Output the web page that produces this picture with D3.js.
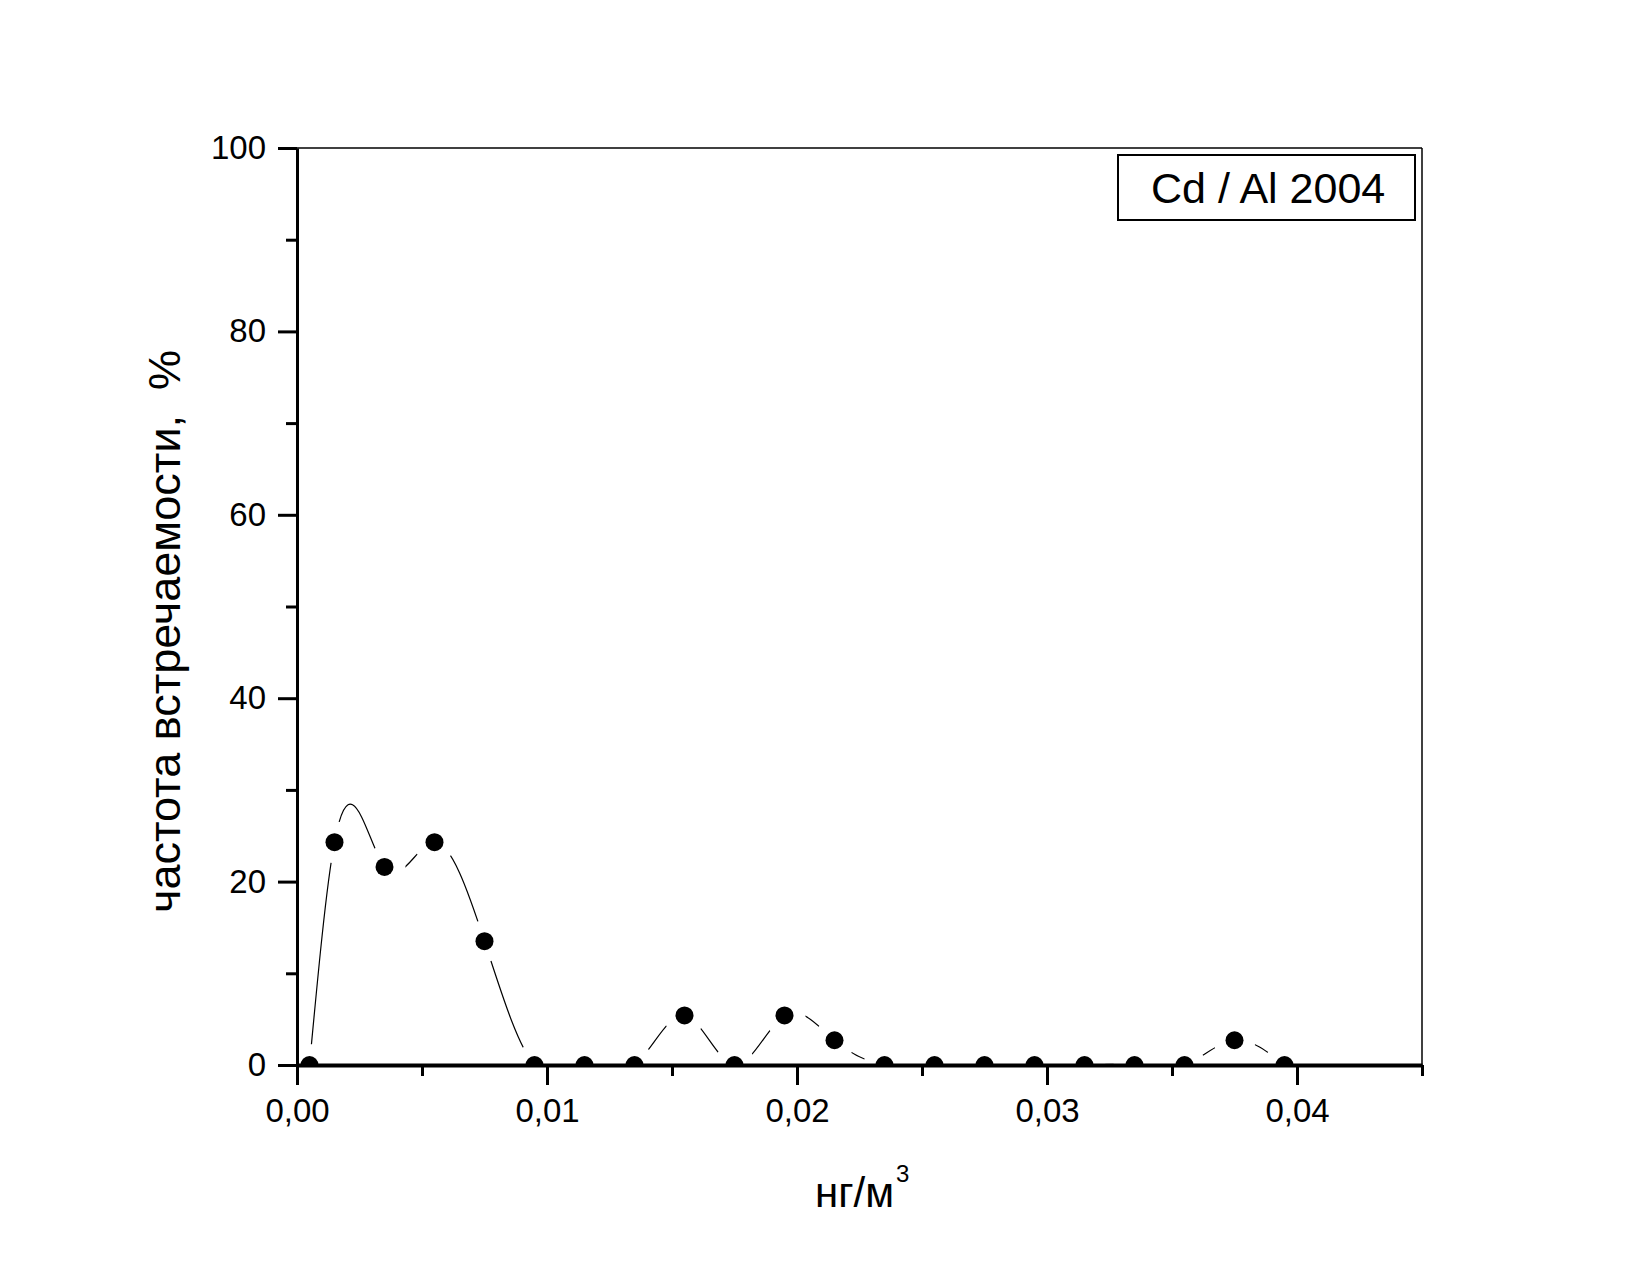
<!DOCTYPE html>
<html>
<head>
<meta charset="utf-8">
<script src="https://d3js.org/d3.v7.min.js"></script>
<style>
  body { margin: 0; background: #fff; }
  text { font-family: "Liberation Sans", Arial, sans-serif; fill: #000; }
</style>
</head>
<body>
<svg id="chart" width="1650" height="1275"></svg>
<script>
// data (bin centres, ng/m3 -> frequency, %)
const binCentres = [0.0005, 0.0015, 0.0035, 0.0055, 0.0075, 0.0095, 0.0115, 0.0135, 0.0155, 0.0175,
                    0.0195, 0.0215, 0.0235, 0.0255, 0.0275, 0.0295, 0.0315, 0.0335, 0.0355, 0.0375, 0.0395];
const frequency  = [0, 24.3, 21.6, 24.3, 13.5, 0, 0, 0, 5.4, 0,
                    5.4, 2.7, 0, 0, 0, 0, 0, 0, 0, 2.7, 0];
const xMajorTicks = [0, 0.01, 0.02, 0.03, 0.04];
const xMinorTicks = [0.005, 0.015, 0.025, 0.035, 0.045];
const yMajorTicks = [0, 20, 40, 60, 80, 100];
const yMinorTicks = [10, 30, 50, 70, 90];
const legendText = "Cd / Al 2004";
const yTitle = "частота встречаемости,  %";

const svg = d3.select("#chart");
const plotLeft = 297, plotRight = 1422, plotTop = 148, plotBottom = 1065;

const x = d3.scaleLinear().domain([0, 0.045]).range([plotLeft, plotRight]);
const y = d3.scaleLinear().domain([0, 100]).range([plotBottom, plotTop]);

const points = binCentres.map((c, i) => ({x: c, y: frequency[i]}));

// natural cubic spline of y over x (uneven knots), written as bezier pieces
function NaturalX(context) { this._context = context; }
NaturalX.prototype = {
  areaStart() { this._line = 0; },
  areaEnd() { this._line = NaN; },
  lineStart() { this._xs = []; this._ys = []; },
  point(px, py) { this._xs.push(+px); this._ys.push(+py); },
  lineEnd() {
    const xs = this._xs, ys = this._ys, n = xs.length, c = this._context;
    if (!n) return;
    c.moveTo(xs[0], ys[0]);
    if (n < 3) { if (n === 2) c.lineTo(xs[1], ys[1]); return; }
    const h = d3.range(n - 1).map(i => xs[i + 1] - xs[i]);
    // tridiagonal solve for second derivatives, ends free
    const M = new Array(n).fill(0), a = [], b = [], r = [];
    for (let i = 1; i < n - 1; i++) {
      a.push(h[i - 1]); b.push(2 * (h[i - 1] + h[i]));
      r.push(6 * ((ys[i + 1] - ys[i]) / h[i] - (ys[i] - ys[i - 1]) / h[i - 1]));
    }
    const m = b.length, cp = new Array(m), dp = new Array(m);
    for (let i = 0; i < m; i++) {
      const up = i < m - 1 ? h[i + 1] : 0;
      const denom = b[i] - (i > 0 ? a[i] * cp[i - 1] : 0);
      cp[i] = up / denom;
      dp[i] = (r[i] - (i > 0 ? a[i] * dp[i - 1] : 0)) / denom;
    }
    for (let i = m - 1; i >= 0; i--) M[i + 1] = dp[i] - (i < m - 1 ? cp[i] * M[i + 2] : 0);
    for (let i = 0; i < n - 1; i++) {
      const sec = (ys[i + 1] - ys[i]) / h[i];
      const s0 = sec - h[i] * (2 * M[i] + M[i + 1]) / 6;
      const s1 = sec + h[i] * (M[i] + 2 * M[i + 1]) / 6;
      c.bezierCurveTo(xs[i] + h[i] / 3, ys[i] + s0 * h[i] / 3,
                      xs[i + 1] - h[i] / 3, ys[i + 1] - s1 * h[i] / 3,
                      xs[i + 1], ys[i + 1]);
    }
  }
};
const curveNaturalX = context => new NaturalX(context);

// clip to the plot area, and a mask to leave gaps round the symbols
const defs = svg.append("defs");
defs.append("clipPath").attr("id", "plotClip")
    .append("rect").attr("x", plotLeft).attr("y", plotTop)
    .attr("width", plotRight - plotLeft).attr("height", plotBottom - plotTop);

const mask = defs.append("mask").attr("id", "gapMask").attr("maskUnits", "userSpaceOnUse")
    .attr("x", 0).attr("y", 0).attr("width", 1650).attr("height", 1275);
mask.append("rect").attr("width", 1650).attr("height", 1275).attr("fill", "#fff");
mask.selectAll("circle").data(points).join("circle")
    .attr("cx", d => x(d.x)).attr("cy", d => y(d.y)).attr("r", 21).attr("fill", "#000");

const plot = svg.append("g").attr("clip-path", "url(#plotClip)");

const line = d3.line().x(d => x(d.x)).y(d => y(d.y)).curve(curveNaturalX);
plot.append("g").attr("mask", "url(#gapMask)")
    .append("path").datum(points)
    .attr("d", line).attr("fill", "none").attr("stroke", "#000").attr("stroke-width", 1.2);

plot.selectAll("circle.pt").data(points).join("circle")
    .attr("class", "pt")
    .attr("cx", d => x(d.x)).attr("cy", d => y(d.y)).attr("r", 9).attr("fill", "#000");

// frame (top and right thin)
svg.append("line").attr("x1", plotLeft).attr("x2", plotRight).attr("y1", plotTop).attr("y2", plotTop)
   .attr("stroke", "#000").attr("stroke-width", 1.5);
svg.append("line").attr("x1", plotRight).attr("x2", plotRight).attr("y1", plotTop).attr("y2", plotBottom)
   .attr("stroke", "#000").attr("stroke-width", 1.5);

// x axis
const xAxis = svg.append("g").attr("transform", `translate(0,${plotBottom})`)
    .call(d3.axisBottom(x).tickValues(xMajorTicks).tickSize(20).tickSizeOuter(0).tickPadding(14)
            .tickFormat(d => d3.format(".2f")(d).replace(".", ",")));
const xMinor = svg.append("g").attr("transform", `translate(0,${plotBottom})`)
    .call(d3.axisBottom(x).tickValues(xMinorTicks).tickSize(11).tickFormat(""));

// y axis
const yAxis = svg.append("g").attr("transform", `translate(${plotLeft},0)`)
    .call(d3.axisLeft(y).tickValues(yMajorTicks).tickSize(19).tickSizeOuter(0).tickPadding(12));
const yMinor = svg.append("g").attr("transform", `translate(${plotLeft},0)`)
    .call(d3.axisLeft(y).tickValues(yMinorTicks).tickSize(11).tickFormat(""));

[xAxis, xMinor, yAxis, yMinor].forEach(g => {
  g.selectAll(".tick line").attr("stroke", "#000").attr("stroke-width", 3);
  g.selectAll(".tick text").attr("font-size", 33).attr("font-family", "Liberation Sans, Arial, sans-serif");
});
xAxis.select(".domain").attr("stroke-width", 4);
xMinor.select(".domain").remove();
yAxis.select(".domain").attr("stroke-width", 3);
yMinor.select(".domain").remove();

// axis titles
svg.append("text")
   .attr("transform", "translate(180,913) rotate(-90)")
   .attr("text-anchor", "start").attr("font-size", 45)
   .style("white-space", "pre")
   .text(yTitle);

const xt = svg.append("text").attr("x", 815).attr("y", 1207)
   .attr("text-anchor", "start").attr("font-size", 42);
xt.append("tspan").text("нг/м");
xt.append("tspan").attr("font-size", 24).attr("dx", 2).attr("dy", -25).text("3");

// legend box
svg.append("rect").attr("x", 1118).attr("y", 155).attr("width", 297).attr("height", 65)
   .attr("fill", "#fff").attr("stroke", "#000").attr("stroke-width", 2);
svg.append("text").attr("x", 1151).attr("y", 203).attr("font-size", 43).text(legendText);
</script>
</body>
</html>
